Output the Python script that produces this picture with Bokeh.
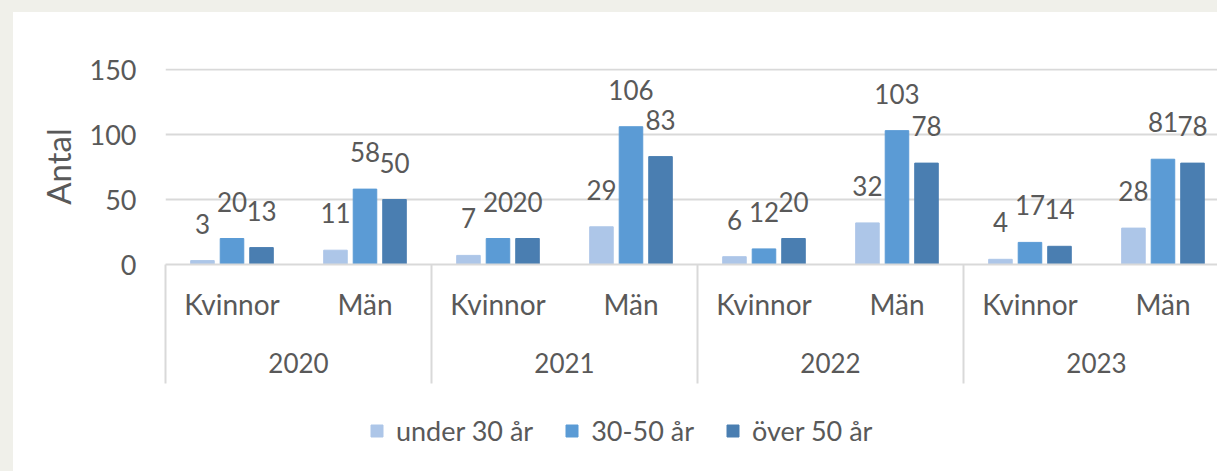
from bokeh.plotting import figure
from bokeh.layouts import column
from bokeh.models import Range1d, FixedTicker, LinearAxis, Legend, LegendItem, ColumnDataSource
from bokeh.embed import file_html
from bokeh.resources import INLINE

# ---- data ----
years = ["2020", "2021", "2022", "2023"]
genders = ["Kvinnor", "Män"]
ages = ["under 30 år", "30-50 år", "över 50 år"]
under30 = [3, 11, 7, 29, 6, 32, 4, 28]
age30_50 = [20, 58, 20, 106, 12, 103, 17, 81]
over50 = [13, 50, 20, 83, 20, 78, 14, 78]
series = [under30, age30_50, over50]

# ---- style ----
colors = ["#adc6e8", "#5b9bd5", "#4a7eb1"]
TXT = "#595959"
GRID = "#d9d9d9"
FONT = "Lato"
bar_step = 0.222
bar_w = 0.177

n_slots = len(years) * len(genders)
slot_centers = [i + 0.5 for i in range(n_slots)]
slot_labels = [genders[i % len(genders)] for i in range(n_slots)]
year_centers = [len(genders) * k + len(genders) / 2 for k in range(len(years))]
year_bounds = [len(genders) * k for k in range(len(years) + 1)]

p = figure(width=1204, height=380, output_backend="svg", toolbar_location=None,
           x_range=Range1d(0, 7.91), y_range=Range1d(0, 150.8),
           min_border_left=152, min_border_right=0, min_border_top=56, min_border_bottom=128,
           outline_line_color=None, background_fill_color="white", border_fill_color="white")

p.xgrid.visible = False
p.ygrid.ticker = FixedTicker(ticks=[0, 50, 100, 150])
p.ygrid.grid_line_color = GRID
p.ygrid.grid_line_width = 2

# y axis
ya = p.yaxis[0]
ya.ticker = FixedTicker(ticks=[0, 50, 100, 150])
ya.axis_line_color = None
ya.major_tick_line_color = None
ya.minor_tick_line_color = None
ya.major_label_standoff = 23
ya.major_label_text_font = FONT
ya.major_label_text_font_size = "27px"
ya.major_label_text_color = TXT
ya.axis_label = "Antal"
ya.axis_label_text_font = FONT
ya.axis_label_text_font_size = "33px"
ya.axis_label_text_font_style = "normal"
ya.axis_label_text_color = TXT
ya.axis_label_standoff = 9

# gender axis (year separators drawn as its minor ticks)
xa = p.xaxis[0]
xa.ticker = FixedTicker(ticks=slot_centers, minor_ticks=year_bounds)
xa.major_label_overrides = {c: l for c, l in zip(slot_centers, slot_labels)}
xa.axis_line_color = GRID
xa.axis_line_width = 2
xa.major_tick_line_color = None
xa.major_tick_out = 0
xa.major_tick_in = 0
xa.minor_tick_line_color = GRID
xa.minor_tick_line_width = 2
xa.minor_tick_out = 119
xa.minor_tick_in = 0
xa.major_label_standoff = -97
xa.major_label_text_font = FONT
xa.major_label_text_font_size = "28px"
xa.major_label_text_color = TXT

# year axis
ya2 = LinearAxis(ticker=FixedTicker(ticks=year_centers, minor_ticks=[]),
                 major_label_overrides={c: y for c, y in zip(year_centers, years)})
ya2.axis_line_color = None
ya2.major_tick_line_color = None
ya2.minor_tick_line_color = None
ya2.major_tick_out = 0
ya2.major_tick_in = 0
ya2.major_label_standoff = 29
ya2.major_label_text_font = FONT
ya2.major_label_text_font_size = "26px"
ya2.major_label_text_color = TXT
p.add_layout(ya2, "below")

for j, (vals, name, col) in enumerate(zip(series, ages, colors)):
    xs = [c + (j - 1) * bar_step for c in slot_centers]
    src = ColumnDataSource(dict(x=xs, top=vals, lab=[str(v) for v in vals]))
    p.vbar(x="x", top="top", width=bar_w, source=src, fill_color=col, line_color=col)
    p.text(x="x", y="top", text="lab", source=src, text_align="center",
           text_baseline="alphabetic", y_offset=-37, text_font_size="26px",
           text_color=TXT, text_font={"value": FONT})

# ---- legend strip (hidden proxy renderers; only their legend entries show) ----
p2 = figure(width=1204, height=79, output_backend="svg", toolbar_location=None,
            x_range=Range1d(0, 7.91), y_range=Range1d(0, 150.8),
            x_axis_location=None, y_axis_location=None,
            min_border_left=0, min_border_right=0, min_border_top=0, min_border_bottom=0,
            outline_line_color=None, background_fill_color="white", border_fill_color="white")
p2.grid.visible = False
items = []
for j, (vals, name, col) in enumerate(zip(series, ages, colors)):
    xs = [c + (j - 1) * bar_step for c in slot_centers]
    r = p2.vbar(x=xs, top=vals, width=bar_w, fill_color=col, line_color=col)
    r.visible = False
    items.append(LegendItem(label=name, renderers=[r]))
leg = Legend(items=items, orientation="horizontal", location=(204, 24),
             border_line_color=None, background_fill_alpha=0,
             inactive_fill_alpha=0,
             label_text_font=FONT, label_text_font_size="27px", label_text_color=TXT,
             glyph_width=15, glyph_height=15, label_standoff=12, spacing=31,
             padding=4, margin=0)
p2.add_layout(leg, "center")

root = column(p, p2, spacing=0)
root.styles = {"margin-left": "13px", "margin-top": "12px",
               "box-shadow": "0 0 0 40px #f0f0ea"}

open("out.html", "w").write(file_html(root, INLINE))
